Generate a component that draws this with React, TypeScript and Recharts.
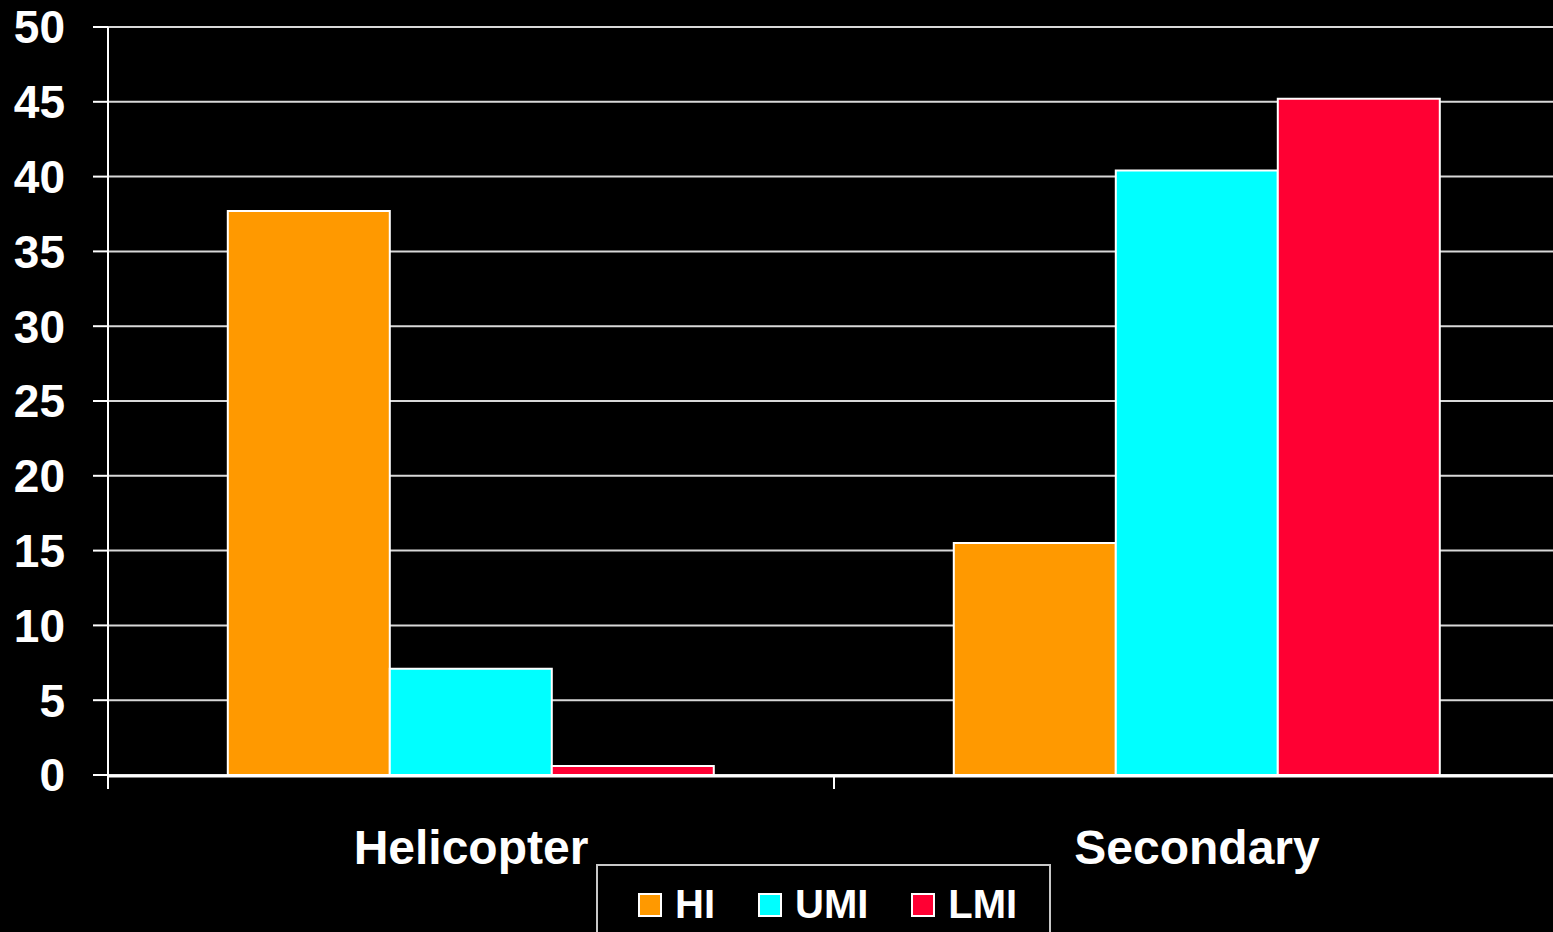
import { BarChart, Bar, XAxis, YAxis, CartesianGrid, Legend } from 'recharts'

const categories = ['Helicopter', 'Secondary']
const hi = [37.7, 15.5]
const umi = [7.1, 40.4]
const lmi = [0.6, 45.2]
const yTicks = [0, 5, 10, 15, 20, 25, 30, 35, 40, 45, 50]
const edgeTicks = [0, 1, 2]

const series = [
  { key: 'HI', values: hi, color: '#ff9900' },
  { key: 'UMI', values: umi, color: '#00ffff' },
  { key: 'LMI', values: lmi, color: '#ff0033' },
]

const data = categories.map((name, i) => {
  const row: Record<string, string | number> = { name, idx: i }
  series.forEach(s => { row[s.key] = s.values[i] })
  return row
})

const font = '"Liberation Sans", Arial, sans-serif'
const order = series.map(s => s.key)

function LegendBox({ payload }: { payload?: { value: string; color: string }[] }) {
  const items = [...(payload ?? [])].sort((a, b) => order.indexOf(a.value) - order.indexOf(b.value))
  return (
    <div style={{ display: 'flex', alignItems: 'center', paddingLeft: 40, paddingTop: 16, fontFamily: font }}>
      {items.map(p => (
        <div key={p.value} style={{ display: 'flex', alignItems: 'center', marginRight: 43 }}>
          <div style={{ width: 20, height: 20, background: p.color, border: '2px solid #fff', marginRight: 13 }} />
          <span style={{ color: '#fff', fontSize: 40, fontWeight: 700 }}>{p.value}</span>
        </div>
      ))}
    </div>
  )
}

const NoLabel = () => <g />

export default function App() {
  return (
    <div style={{ position: 'absolute', left: 0, top: 0, width: 1553, height: 932, background: '#000', overflow: 'hidden' }}>
      <BarChart
        width={1560}
        height={932}
        data={data}
        margin={{ top: 27, right: 0, bottom: 0, left: 0 }}
        barCategoryGap="16.5%"
        barGap={0}
      >
        <CartesianGrid vertical={false} stroke="#d8d8d8" strokeWidth={2} />
        <XAxis
          xAxisId={0}
          type="number"
          dataKey="idx"
          domain={[0, 2]}
          allowDataOverflow
          ticks={edgeTicks}
          interval={0}
          tick={NoLabel}
          tickSize={14}
          tickLine={{ stroke: '#fff', strokeWidth: 2 }}
          axisLine={false}
          height={1}
        />
        <XAxis
          xAxisId={1}
          dataKey="name"
          tickLine={false}
          tickSize={0}
          tickMargin={54}
          height={76}
          axisLine={{ stroke: '#fff', strokeWidth: 3 }}
          tick={{ fill: '#fff', fontSize: 48, fontWeight: 700, fontFamily: font }}
        />
        <YAxis
          domain={[0, 50]}
          ticks={yTicks}
          width={108}
          tickSize={15}
          tickMargin={28}
          interval={0}
          axisLine={{ stroke: '#fff', strokeWidth: 2 }}
          tickLine={{ stroke: '#fff', strokeWidth: 2 }}
          tick={{ fill: '#fff', fontSize: 46, fontWeight: 700, fontFamily: font }}
        />
        <Legend
          layout="vertical"
          align="center"
          verticalAlign="bottom"
          content={<LegendBox />}
          wrapperStyle={{ left: 596, top: 864, width: 455, height: 80, border: '2px solid #c8c8c8', boxSizing: 'border-box' }}
        />
        {series.map(s => (
          <Bar
            key={s.key}
            xAxisId={1}
            dataKey={s.key}
            fill={s.color}
            stroke="#fff"
            strokeWidth={2}
            isAnimationActive={false}
          />
        ))}
      </BarChart>
    </div>
  )
}
